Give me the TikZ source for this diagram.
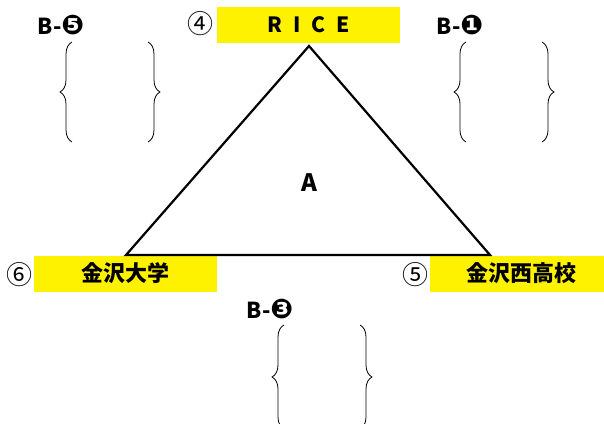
\documentclass[tikz,border=0pt]{standalone}
\usepackage{fontspec}
\setmainfont{Noto Sans CJK JP}
\newfontfamily\dingfont{DejaVu Sans}
\usetikzlibrary{decorations.pathreplacing}

\begin{document}
\begin{tikzpicture}[x=1pt,y=-1pt,
    bigtext/.style={font=\bfseries\fontsize{22}{26}\selectfont},
    curly/.style={draw,line width=.8pt,decorate,decoration={brace,amplitude=12pt,aspect=.5}}]

      \useasboundingbox (0,0) rectangle (604,423);

      \begin{scope}[every node/.style={bigtext,fill=yellow,inner sep=0pt,minimum width=183pt,minimum height=36pt}]
        \node (rice) at (308.5,25)  {\fontsize{21}{24}\selectfont R\hspace{11pt}I\hspace{11pt}C\hspace{11pt}E};
        \node (univ) at (125.5,273.5) {金沢大学};
        \node (high) at (521.5,273.5) {金沢西高校};
      \end{scope}

      \begin{scope}[every node/.style={font=\fontsize{26}{28}\selectfont,inner sep=0pt}]
        \node (n4) at (200,24)  {④};
        \node (n6) at (19,275)  {⑥};
        \node (n5) at (415,275) {⑤};
      \end{scope}

      \begin{scope}[every node/.style={bigtext,inner sep=0pt}]
        \node (a)  at (309.5,183) {\fontsize{24}{28}\selectfont A};
        \node (b5) at (61,25)   {B-{\dingfont\fontsize{27}{28}\selectfont ❺}};
        \node (b1) at (460,25)  {B-{\dingfont\fontsize{27}{28}\selectfont ❶}};
        \node (b3) at (270,309) {B-{\dingfont\fontsize{27}{28}\selectfont ❸}};
      \end{scope}

      \coordinate (top)   at (309,46);
      \coordinate (left)  at (126,255);
      \coordinate (right) at (490,255);
      \draw[line width=2.2pt,line join=miter] (top) -- (left) -- (right) -- cycle;

      \draw[curly] (72,142) -- (72,42);
      \draw[curly] (148,42) -- (148,142);
      \draw[curly] (466,142) -- (466,42);
      \draw[curly] (542,42) -- (542,142);
      \draw[curly] (284,429) -- (284,325);
      \draw[curly] (360,325) -- (360,429);

    \end{tikzpicture}
\end{document}
